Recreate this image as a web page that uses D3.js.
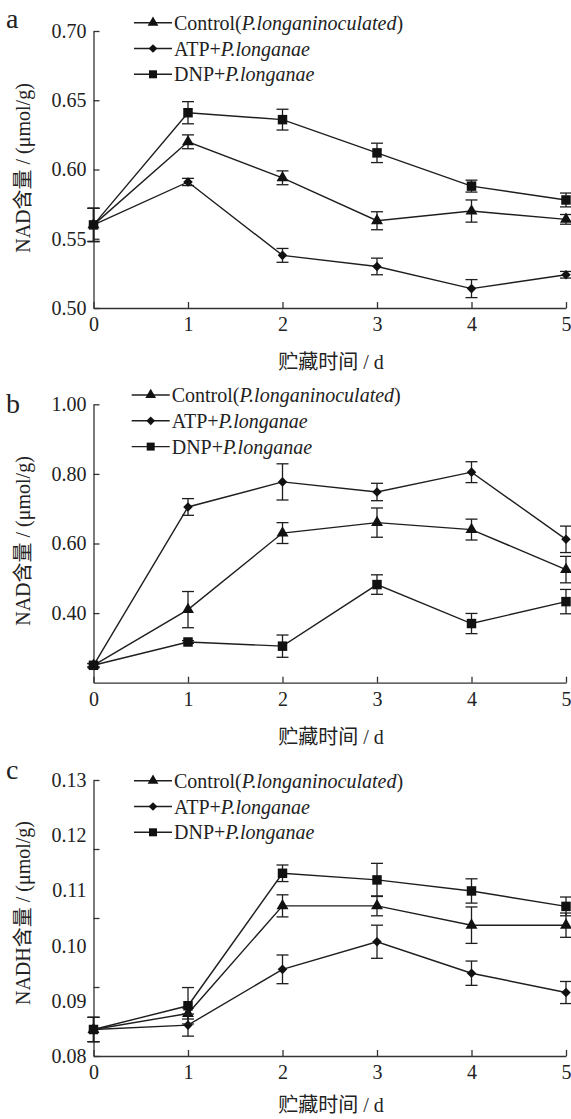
<!DOCTYPE html>
<html>
<head>
<meta charset="utf-8">
<script src="https://cdn.jsdelivr.net/npm/d3@7"></script>
<style>
body { margin: 0; background: #fff; }
svg { display: block; }
text { font-family: "Liberation Serif", "Noto Sans CJK SC", serif; fill: #222; }
.axis path, .axis line { stroke: #333; stroke-width: 1.3; }
.axis text { font-size: 20px; font-family: "Liberation Serif", serif; fill: #222; }
</style>
</head>
<body>
<div id="chart"></div>
<script>

// storage days
var days = [0, 1, 2, 3, 4, 5];

// legend labels (plain part, italic part, tail)
var legendPlain = ["Control(", "ATP+", "DNP+"];
var legendItalic = ["P.longaninoculated", "P.longanae", "P.longanae"];
var legendTail = [")", "", ""];
var symbols = ["triangle", "diamond", "square"];

// panel a : NAD
var aControl = [0.560, 0.620, 0.594, 0.563, 0.570, 0.564];
var aControlErr = [0.012, 0.005, 0.005, 0.0065, 0.008, 0.0035];
var aATP = [0.560, 0.591, 0.538, 0.530, 0.514, 0.524];
var aATPErr = [0.012, 0.0026, 0.005, 0.006, 0.0065, 0.0024];
var aDNP = [0.560, 0.641, 0.636, 0.612, 0.588, 0.578];
var aDNPErr = [0.012, 0.008, 0.0075, 0.007, 0.0043, 0.005];
var aTicks = [0.50, 0.55, 0.60, 0.65, 0.70];

// panel b : NAD
var bControl = [0.25, 0.41, 0.63, 0.66, 0.64, 0.525];
var bControlErr = [0.005, 0.052, 0.03, 0.042, 0.03, 0.038];
var bATP = [0.25, 0.705, 0.777, 0.748, 0.805, 0.612];
var bATPErr = [0.005, 0.024, 0.052, 0.025, 0.03, 0.038];
var bDNP = [0.25, 0.317, 0.305, 0.482, 0.370, 0.433];
var bDNPErr = [0.005, 0.004, 0.032, 0.028, 0.029, 0.035];
var bTicks = [0.40, 0.60, 0.80, 1.00];

// panel c : NADH
var cControl = [0.0848, 0.0877, 0.1072, 0.1072, 0.1037, 0.1037];
var cControlErr = [0.0022, 0.001, 0.002, 0.0018, 0.0033, 0.0022];
var cATP = [0.0848, 0.0856, 0.0957, 0.1007, 0.0950, 0.0915];
var cATPErr = [0.0022, 0.002, 0.0026, 0.003, 0.0022, 0.002];
var cDNP = [0.0848, 0.0891, 0.1131, 0.1119, 0.1099, 0.1071];
var cDNPErr = [0.0022, 0.0033, 0.0015, 0.003, 0.0022, 0.0017];
var cTickLabels = [0.08, 0.09, 0.10, 0.11, 0.12, 0.13];
var cTickMarks = [0.08, 0.0925, 0.105, 0.1175, 0.13];

var W = 571, H = 1119;
var xLeft = 93.5, xRight = 566;

var svg = d3.select("#chart").append("svg")
	.attr("width", W).attr("height", H);

function symbolPath(type, big){
	if(type == "triangle") return d3.symbol(d3.symbolTriangle, big ? 62 : 50)();
	if(type == "square") return d3.symbol(d3.symbolSquare, big ? 90 : 64)();
	return d3.symbol(d3.symbolSquare, big ? 46 : 38)();
}

function drawPanel(p){

	var g = svg.append("g");

	var x = d3.scaleLinear().domain([0, 5]).range([xLeft, xRight]);
	var y = d3.scaleLinear().domain(p.domain).range([p.bottom, p.top]);

	// x axis, ticks pointing inwards
	g.append("g")
	.attr("class", "axis")
	.attr("transform", "translate(0," + p.bottom + ")")
	.call(d3.axisBottom(x).tickValues(days).tickSizeInner(-6).tickSizeOuter(0).tickPadding(9).tickFormat(d3.format("d")));

	// y axis
	if(p.tickMarks){
		// tick marks and labels do not line up in the original
		g.append("g")
		.attr("class", "axis")
		.attr("transform", "translate(" + xLeft + ",0)")
		.call(d3.axisLeft(y).tickValues(p.tickMarks).tickSizeInner(-6).tickSizeOuter(0).tickFormat(""));
		var lab = g.append("g")
		.attr("class", "axis")
		.attr("transform", "translate(" + xLeft + ",0)")
		.call(d3.axisLeft(y).tickValues(p.ticks).tickSize(0).tickPadding(7).tickFormat(d3.format(".2f")));
		lab.select(".domain").remove();
	} else {
		g.append("g")
		.attr("class", "axis")
		.attr("transform", "translate(" + xLeft + ",0)")
		.call(d3.axisLeft(y).tickValues(p.ticks).tickSizeInner(-6).tickSizeOuter(0).tickPadding(7).tickFormat(d3.format(".2f")));
	}

	// y title
	g.append("text")
	.attr("transform", "translate(30," + p.titleY + ") rotate(-90)")
	.attr("text-anchor", "middle")
	.style("font-size", "20px")
	.text(p.yTitle);

	// x title
	g.append("text")
	.attr("x", 331).attr("y", p.bottom + p.xTitleOffset)
	.attr("text-anchor", "middle")
	.style("font-size", "20px")
	.text("贮藏时间 / d");

	// panel letter
	g.append("text")
	.attr("x", 6).attr("y", p.letterY)
	.style("font-size", "28px")
	.text(p.letter);

	var line = d3.line()
	.x(function(d, i){ return x(days[i]); })
	.y(function(d){ return y(d); });

	p.series.forEach(function(s, si){
		g.append("path")
		.datum(s.values)
		.attr("d", line)
		.attr("fill", "none")
		.attr("stroke", "#1e1e1e")
		.attr("stroke-width", 1.4);
	});

	p.series.forEach(function(s, si){
		var eb = g.append("g").attr("stroke", "#1e1e1e").attr("stroke-width", 1.3);
		s.values.forEach(function(v, i){
			var cx = x(days[i]), e = s.err[i];
			eb.append("line").attr("x1", cx).attr("x2", cx).attr("y1", y(v - e)).attr("y2", y(v + e));
			eb.append("line").attr("x1", cx - 6).attr("x2", cx + 6).attr("y1", y(v - e)).attr("y2", y(v - e));
			eb.append("line").attr("x1", cx - 6).attr("x2", cx + 6).attr("y1", y(v + e)).attr("y2", y(v + e));
		});
		g.selectAll(null)
		.data(s.values)
		.enter().append("path")
		.attr("d", symbolPath(symbols[si], true))
		.attr("fill", "#111")
		.attr("transform", function(d, i){
			return "translate(" + x(days[i]) + "," + y(d) + ")" + (symbols[si] == "diamond" ? " rotate(45)" : "");
		});
	});

	// legend
	var lg = g.append("g");
	legendPlain.forEach(function(name, i){
		var ly = p.legendY + i * 25.8;
		lg.append("line")
		.attr("x1", p.legendX).attr("x2", p.legendX + 38)
		.attr("y1", ly).attr("y2", ly)
		.attr("stroke", "#1e1e1e").attr("stroke-width", 1.4);
		lg.append("path")
		.attr("d", symbolPath(symbols[i], false))
		.attr("fill", "#111")
		.attr("transform", "translate(" + (p.legendX + 19) + "," + ly + ")" + (symbols[i] == "diamond" ? " rotate(45)" : ""));
		var t = lg.append("text")
		.attr("x", p.legendX + 40).attr("y", ly + 7)
		.style("font-size", "20px");
		t.append("tspan").text(name);
		t.append("tspan").style("font-style", "italic").text(legendItalic[i]);
		t.append("tspan").text(legendTail[i]);
	});
}

drawPanel({
	letter: "a", letterY: 28,
	domain: [0.50, 0.70], top: 31, bottom: 308,
	ticks: aTicks,
	yTitle: "NAD含量 / (μmol/g)", titleY: 168,
	xTitleOffset: 61,
	legendX: 134, legendY: 22.7,
	series: [
		{values: aControl, err: aControlErr},
		{values: aATP, err: aATPErr},
		{values: aDNP, err: aDNPErr}
	]
});

drawPanel({
	letter: "b", letterY: 413,
	domain: [0.20, 1.00], top: 404.3, bottom: 682.7,
	ticks: bTicks,
	yTitle: "NAD含量 / (μmol/g)", titleY: 541,
	xTitleOffset: 61,
	legendX: 131.7, legendY: 395,
	series: [
		{values: bControl, err: bControlErr},
		{values: bATP, err: bATPErr},
		{values: bDNP, err: bDNPErr}
	]
});

drawPanel({
	letter: "c", letterY: 779,
	domain: [0.08, 0.13], top: 780, bottom: 1056,
	ticks: cTickLabels, tickMarks: cTickMarks,
	yTitle: "NADH含量 / (μmol/g)", titleY: 913,
	xTitleOffset: 56,
	legendX: 134, legendY: 780.7,
	series: [
		{values: cControl, err: cControlErr},
		{values: cATP, err: cATPErr},
		{values: cDNP, err: cDNPErr}
	]
});

</script>
</body>
</html>
